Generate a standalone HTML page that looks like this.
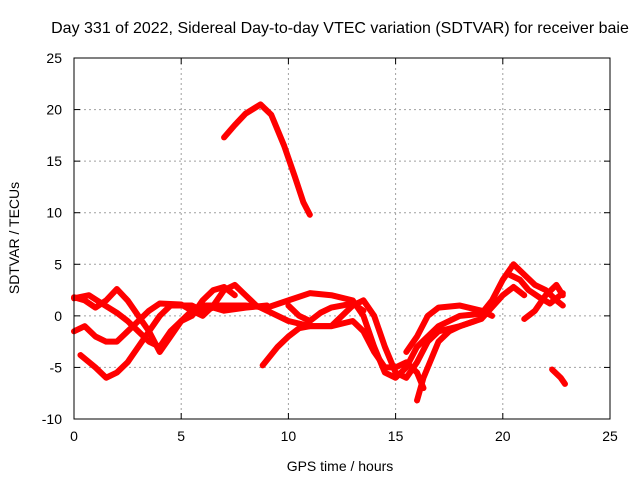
<!DOCTYPE html>
<html><head><meta charset="utf-8"><style>
body{margin:0;background:#fff;}
svg{display:block;font-family:"Liberation Sans",sans-serif;}
</style></head><body>
<svg id="chart" width="640" height="480">
<text x="340" y="33" font-size="16" text-anchor="middle">Day 331 of 2022, Sidereal Day-to-day VTEC variation (SDTVAR) for receiver baie</text>
<text x="340" y="471" font-size="14" text-anchor="middle">GPS time / hours</text>
<text transform="translate(19,238) rotate(-90)" font-size="14" text-anchor="middle">SDTVAR / TECUs</text>
<g id="grid"></g><g id="series"></g><g id="axes"></g>
</svg>
<script>
const xTicks=[0,5,10,15,20,25];
const yTicks=[-10,-5,0,5,10,15,20,25];
const s1=[[7,17.3],[7.5,18.5],[8,19.6],[8.7,20.5],[9.2,19.5],[9.8,16.5],[10.3,13.5],[10.7,11],[11,9.8]];
const s2=[[0,1.8],[0.5,1.5],[1,0.8],[1.5,1.5],[2,2.6],[2.5,1.5],[3,0],[3.5,-1.5],[4,-3.5],[4.5,-2],[5,-0.5],[5.5,0.5],[6,1],[7,1],[8,1],[9,0.8],[10,1.5],[11,2.2],[12,2],[13,1.5],[13.5,0],[14,-3],[14.5,-5.5],[15,-6],[15.5,-5],[16,-3],[17,-1],[18,0],[19,0.2],[19.5,1.5],[20,3.5],[20.5,5],[21,4],[21.5,3],[22,2.5],[22.5,1.5],[22.8,1]];
const s3=[[0,1.7],[0.7,2],[1.3,1.2],[2,0.3],[2.5,-0.5],[3,-1.5],[3.5,-2.5],[4,-3],[4.5,-1.5],[5,-0.5],[5.5,0],[6,1.5],[6.5,2.5],[7,2.8],[7.5,2]];
const s4=[[0,-1.5],[0.5,-1],[1,-2],[1.5,-2.5],[2,-2.5],[2.5,-1.5],[3,-0.5],[3.5,0.5],[4,1.2],[5,1.1],[5.5,0.5],[6,0],[6.5,1],[7,2.5],[7.5,3],[8,2],[8.5,1],[9,0.5],[10,-0.5],[11,-1],[12,-1],[13,-0.5],[13.5,-1.5],[14,-3.5],[14.5,-5],[15,-5],[15.5,-4.5],[16,-5.5],[16.3,-7]];
const s5=[[0.3,-3.8],[1,-5],[1.5,-6],[2,-5.5],[2.5,-4.5],[3,-3],[3.5,-1.5],[4,0],[4.5,1],[5,1],[5.5,1],[6,0.5],[6.5,0.8],[7,0.5],[8,0.8],[9,1]];
const s6=[[8.8,-4.8],[9.5,-3],[10,-2],[10.5,-1.2],[11,-1],[12,-1],[13,1],[13.5,1.5],[14,0],[14.5,-3],[15,-5.5],[15.5,-6],[16,-4.5],[16.5,-2.5],[17,-1.5],[18,-1],[19,-0.3],[20,2],[20.5,2.8],[21,2]];
const s7=[[15.5,-3.5],[16,-2],[16.5,0],[17,0.8],[18,1],[19,0.5],[19.5,0]];
const s8=[[16,-8.2],[16.3,-6],[16.7,-4],[17,-2.5],[17.5,-1.5],[18,-1],[18.7,-0.5]];
const s9=[[21,-0.3],[21.5,0.5],[22,2],[22.5,3],[22.8,2]];
const s10=[[22.3,-5.2],[22.7,-6],[22.9,-6.6]];
const s11=[[10,1],[10.5,0],[11,-0.5],[11.5,0.3],[12,0.8],[12.5,1],[13,1.2],[13.5,0.5]];
const s12=[[20.3,4],[20.8,3.5],[21.2,2.5],[21.7,1.8],[22.2,1.2],[22.8,2.2]];
const allSeries=[s1,s2,s3,s4,s5,s6,s7,s8,s9,s10,s11,s12];
const X0=74,X1=610,Y0=419,Y1=58;
const sx=h=>X0+(h-0)/25*(X1-X0);
const sy=v=>Y0-(v+10)/35*(Y0-Y1);
const NS="http://www.w3.org/2000/svg";
const grid=document.getElementById('grid'),axes=document.getElementById('axes'),ser=document.getElementById('series');
function mk(tag,attrs,parent){const e=document.createElementNS(NS,tag);for(const k in attrs)e.setAttribute(k,attrs[k]);parent.appendChild(e);return e;}
xTicks.forEach(t=>{
  const x=sx(t);
  if(t>0&&t<25){const g=mk('line',{x1:x,x2:x,y1:Y1,y2:Y0,stroke:'#a0a0a0','stroke-dasharray':'2,3'},grid);
  
  }
  mk('line',{x1:x,x2:x,y1:Y0,y2:Y0-6,stroke:'#000'},axes);
  mk('line',{x1:x,x2:x,y1:Y1,y2:Y1+6,stroke:'#000'},axes);
  const tx=mk('text',{x:x,y:Y0+22,'font-size':14,'text-anchor':'middle'},axes);tx.textContent=t;
  
  
});
yTicks.forEach(t=>{
  const y=sy(t);
  if(t>-10&&t<25){const g=mk('line',{x1:X0,x2:X1,y1:y,y2:y,stroke:'#a0a0a0','stroke-dasharray':'2,3'},grid);
  
  }
  mk('line',{x1:X0,x2:X0+6,y1:y,y2:y,stroke:'#000'},axes);
  mk('line',{x1:X1,x2:X1-6,y1:y,y2:y,stroke:'#000'},axes);
  const tx=mk('text',{x:X0-12,y:y+5,'font-size':14,'text-anchor':'end'},axes);tx.textContent=t;
  
  
});
const fr=mk('rect',{x:X0,y:Y1,width:X1-X0,height:Y0-Y1,fill:'none',stroke:'#000'},axes);


allSeries.forEach((s,i)=>{
  const p=mk('polyline',{points:s.map(d=>sx(d[0])+','+sy(d[1])).join(' '),fill:'none',stroke:'#ff0000','stroke-width':6,'stroke-linejoin':'round','stroke-linecap':'round'},ser);
  
  
});
</script>
</body></html>
